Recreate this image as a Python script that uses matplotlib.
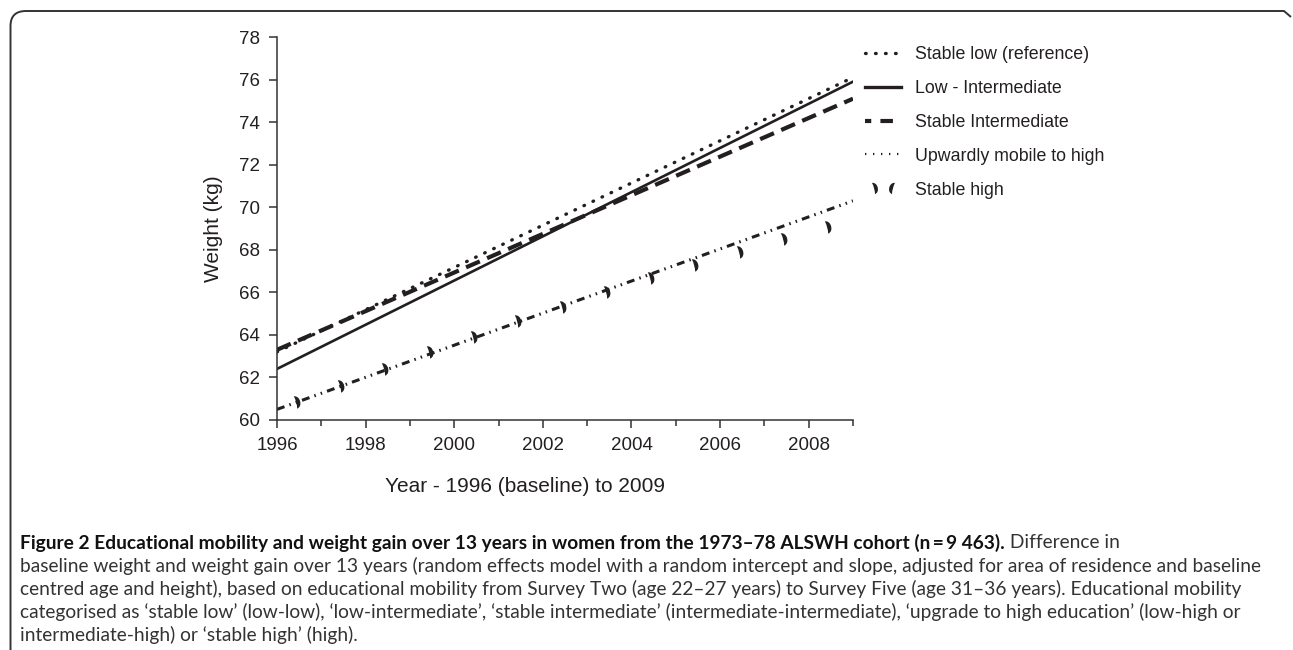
"""Educational mobility and weight gain, ALSWH 1973-78 cohort."""

import matplotlib

matplotlib.use("Agg")

import matplotlib.pyplot as plt
from matplotlib.legend_handler import HandlerTuple
from matplotlib.lines import Line2D
from matplotlib.path import Path
from matplotlib.patches import PathPatch
from matplotlib.transforms import Affine2D

# fitted lines, weight (kg) at the start and end of follow-up
line_years = [1996, 2009]
stable_low = [63.2, 76.1]
low_intermediate = [62.4, 75.9]
stable_intermediate = [63.3, 75.1]
upward_high = [60.5, 70.3]

# stable high is drawn as separate marks
high_years = [1996.4, 1997.4, 1998.4, 1999.4, 2000.4, 2001.4, 2002.4,
              2003.4, 2004.4, 2005.4, 2006.4, 2007.4, 2008.4]
stable_high = [60.85, 61.6, 62.4, 63.2, 63.9, 64.65, 65.3,
               66.0, 66.67, 67.28, 67.9, 68.5, 69.07]

labels = ["Stable low (reference)", "Low - Intermediate", "Stable Intermediate",
          "Upwardly mobile to high", "Stable high"]
year_ticks = [1996, 1998, 2000, 2002, 2004, 2006, 2008]
weight_ticks = [60, 62, 64, 66, 68, 70, 72, 74, 76, 78]

caption_bold = ("Figure 2 Educational mobility and weight gain over 13 years in women "
                "from the 1973\u201378 ALSWH cohort (n\u2009=\u20099 463).")
caption_rest = [
    " Difference in",
    "baseline weight and weight gain over 13 years (random effects model with a random "
    "intercept and slope, adjusted for area of residence and baseline",
    "centred age and height), based on educational mobility from Survey Two (age 22\u201327 "
    "years) to Survey Five (age 31\u201336 years). Educational mobility",
    "categorised as \u2018stable low\u2019 (low-low), \u2018low-intermediate\u2019, \u2018stable "
    "intermediate\u2019 (intermediate-intermediate), \u2018upgrade to high education\u2019 "
    "(low-high or",
    "intermediate-high) or \u2018stable high\u2019 (high).",
]

W, H = 1293, 650
ink = "#231f20"
plt.rcParams["font.family"] = ["Liberation Sans", "DejaVu Sans"]

fig = plt.figure(figsize=(W / 100, H / 100), dpi=100)
ax = fig.add_axes([277 / W, 1 - 420 / H, 576 / W, 383 / H])

# half-moon marks for stable high
right_moon = Path([(0, 1), (1.0, 0.9), (1.0, -0.9), (0, -1), (0.25, 0), (0, 1)],
                  [Path.MOVETO, Path.CURVE4, Path.CURVE4, Path.CURVE4,
                   Path.CURVE3, Path.CURVE3])
right_moon = right_moon.transformed(Affine2D().rotate_deg(15))
left_moon = right_moon.transformed(Affine2D().scale(-1, 1))

ax.plot(line_years, stable_low, color=ink, lw=2.4, dashes=(0.2, 2.8),
        dash_capstyle="round")
ax.plot(line_years, low_intermediate, color=ink, lw=1.9)
ax.plot(line_years, stable_intermediate, color=ink, lw=3.0, dashes=(3.6, 1.9))
ax.plot(line_years, upward_high, color=ink, lw=2.2,
        dashes=(2.6, 1.7, 0.5, 1.7, 0.5, 1.7))
ax.plot(high_years, stable_high, ls="none", marker=right_moon, ms=11,
        color=ink, mew=0)

ax.set_xlim(1996, 2009)
ax.set_ylim(60, 78)
ax.set_xticks(year_ticks)
ax.set_xticks(range(1997, 2010, 2), minor=True)
ax.set_yticks(weight_ticks)
for side in ["top", "right"]:
    ax.spines[side].set_visible(False)
for side in ["left", "bottom"]:
    ax.spines[side].set_color("#333333")
    ax.spines[side].set_linewidth(1.1)
ax.tick_params(which="major", length=6, width=1.1, color="#333333",
               labelsize=13.5, labelcolor=ink, pad=6)
ax.tick_params(which="minor", length=4, width=1.1, color="#333333")
ax.set_ylabel("Weight (kg)", fontsize=15, color=ink, labelpad=12)
fig.text(525 / W, 1 - 486 / H, "Year - 1996 (baseline) to 2009", fontsize=15,
         color=ink, ha="center", va="center")

handles = [
    Line2D([], [], color=ink, lw=2.4, dashes=(0.2, 2.8), dash_capstyle="round"),
    Line2D([], [], color=ink, lw=2.4),
    Line2D([], [], color=ink, lw=3.0, dashes=(1.5, 2.2, 3.0, 2.2)),
    Line2D([], [], color=ink, lw=1.6, dashes=(0.6, 3.0)),
    (Line2D([], [], ls="none", marker=right_moon, ms=10, color=ink, mew=0),
     Line2D([], [], ls="none", marker=left_moon, ms=10, color=ink, mew=0)),
]
fig.legend(handles, labels, loc="upper left", bbox_to_anchor=(849 / W, 1 - 30 / H),
           frameon=False, fontsize=12.8, handlelength=2.0, handletextpad=0.8,
           labelspacing=0.95, labelcolor=ink, numpoints=1,
           handler_map={tuple: HandlerTuple(ndivide=None, pad=0.3)})

# caption below the chart
cap_font = ["Lato", "DejaVu Sans"]
cap_size = 13.8
cap_y = [543, 566, 589, 612, 635]
first = fig.text(20 / W, 1 - cap_y[0] / H, caption_bold, fontsize=cap_size,
                 weight="bold", family=cap_font, color="#111111", va="center")
fig.canvas.draw()
bb = first.get_window_extent()
fig.text(bb.x1 / W, 1 - cap_y[0] / H, caption_rest[0], fontsize=cap_size,
         family=cap_font, color="#333333", va="center")
for y, line in zip(cap_y[1:], caption_rest[1:]):
    fig.text(20 / W, 1 - y / H, line, fontsize=cap_size, family=cap_font,
             color="#333333", va="center")

# rounded frame around the figure
px = Affine2D().scale(1 / W, -1 / H).translate(0, 1) + fig.transFigure
frame = Path([(10.5, 660), (10.5, 26), (10.5, 11), (26, 11), (1284, 11), (1291, 17)],
             [Path.MOVETO, Path.LINETO, Path.CURVE3, Path.CURVE3, Path.LINETO,
              Path.LINETO])
fig.add_artist(PathPatch(frame, transform=px, fill=False, edgecolor="#333333", lw=1.4))

fig.savefig("out.png", dpi=100)
